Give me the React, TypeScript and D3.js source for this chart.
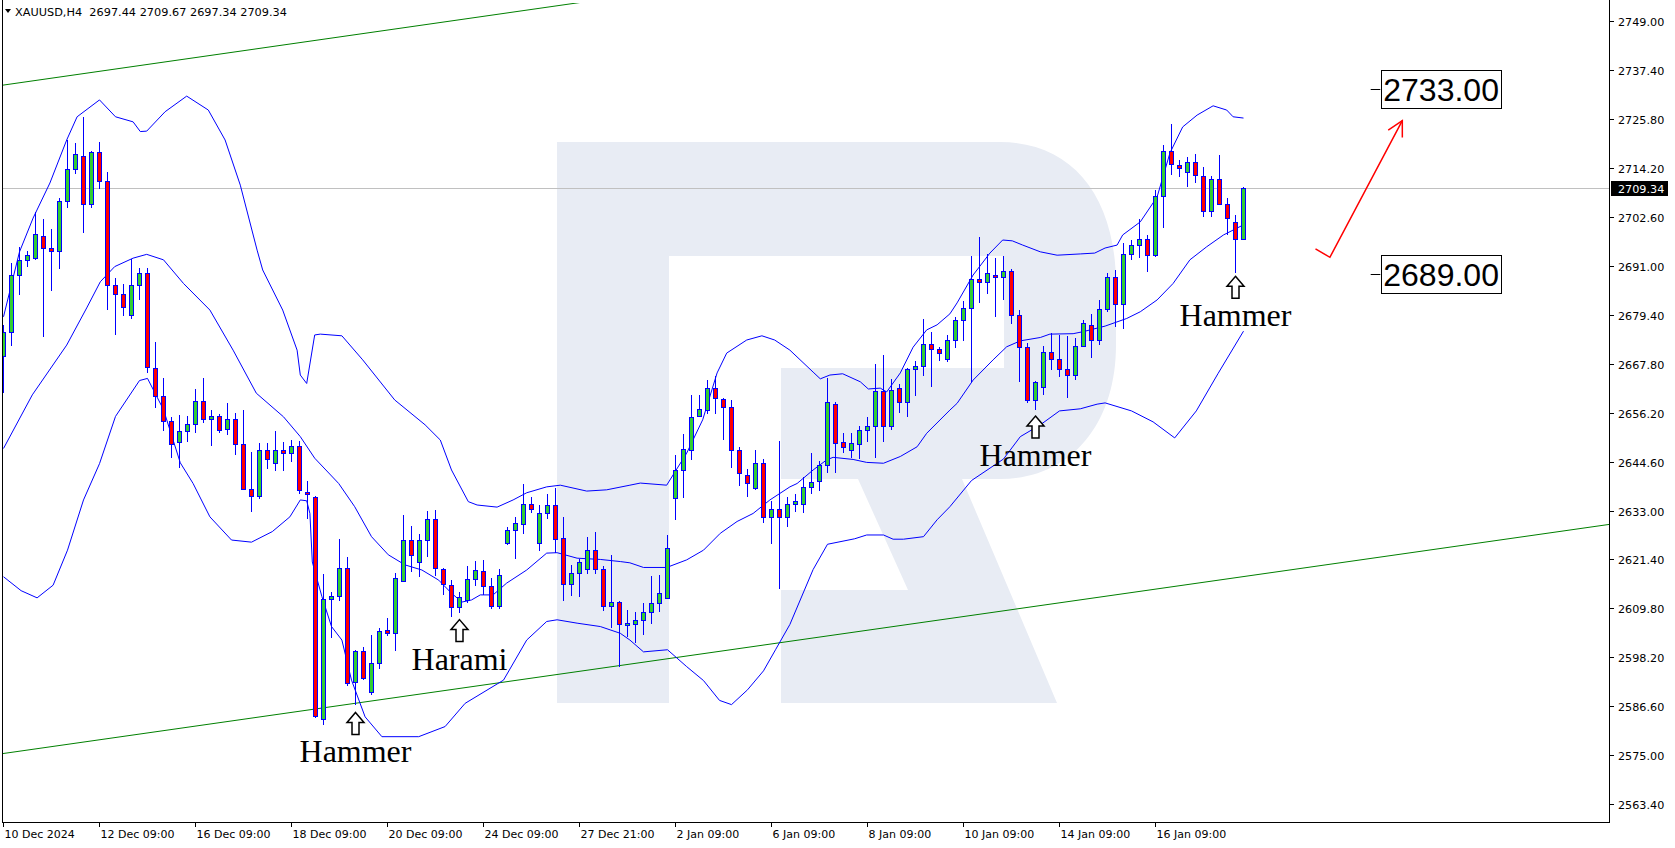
import React from 'react';
import * as d3 from 'd3';

// ---------- DATA ----------
const opens = [
  2669.5, 2675.2, 2688.8, 2692.3, 2692.9, 2698.0, 2695.2, 2694.4, 2706.3, 2713.9,
  2716.9, 2705.6, 2717.9, 2711.2, 2686.4, 2684.2, 2679.4, 2686.4, 2689.4, 2666.7,
  2660.1, 2654.1, 2649.2, 2651.8, 2653.5, 2658.9, 2654.7, 2655.3, 2652.2, 2654.6,
  2648.7, 2638.0, 2636.4, 2647.3, 2644.2, 2647.3, 2646.6, 2648.2, 2637.5, 2636.1,
  2583.6, 2612.0, 2612.7, 2619.3, 2592.3, 2599.6, 2589.9, 2596.8, 2604.6, 2603.9,
  2616.4, 2626.0, 2620.7, 2626.0, 2631.1, 2619.1, 2615.3, 2610.1, 2611.8, 2616.7,
  2618.6, 2615.0, 2610.4, 2625.2, 2628.3, 2629.7, 2634.5, 2625.2, 2632.4, 2634.2,
  2626.4, 2615.5, 2618.3, 2619.1, 2623.6, 2619.1, 2610.4, 2611.3, 2605.8, 2606.0,
  2607.0, 2609.0, 2611.0, 2612.2, 2635.9, 2642.5, 2647.3, 2655.3, 2656.7, 2662.1,
  2659.4, 2657.5, 2647.3, 2641.5, 2638.3, 2644.2, 2631.4, 2633.4, 2631.4, 2634.5,
  2634.5, 2638.5, 2639.9, 2643.7, 2658.2, 2649.2, 2647.3, 2648.7, 2652.0, 2653.0,
  2661.3, 2653.1, 2662.0, 2658.8, 2666.5, 2667.2, 2672.4, 2671.3, 2668.8, 2673.4,
  2678.1, 2680.9, 2687.8, 2687.2, 2688.7, 2688.3, 2689.7, 2679.3, 2671.7, 2659.2,
  2662.3, 2670.5, 2668.8, 2666.5, 2665.0, 2672.1, 2676.9, 2673.4, 2680.7, 2688.4,
  2681.9, 2693.9, 2695.8, 2697.3, 2693.5, 2707.6, 2718.3, 2714.9, 2713.2, 2715.5,
  2712.3, 2704.0, 2711.5, 2705.6, 2701.3, 2697.44,
];
const highs = [
  2677.0, 2691.6, 2695.5, 2694.5, 2703.8, 2702.1, 2699.7, 2707.0, 2720.8, 2720.0,
  2726.3, 2718.3, 2720.3, 2713.1, 2688.2, 2686.6, 2692.5, 2690.4, 2690.4, 2672.9,
  2664.5, 2655.2, 2655.7, 2655.5, 2661.7, 2664.5, 2656.7, 2655.9, 2658.4, 2656.1,
  2656.7, 2646.9, 2649.0, 2649.0, 2651.8, 2649.2, 2649.6, 2649.5, 2640.0, 2636.5,
  2618.0, 2613.8, 2626.2, 2621.9, 2599.9, 2600.7, 2603.6, 2605.2, 2607.6, 2618.1,
  2631.9, 2629.3, 2627.4, 2632.9, 2633.1, 2619.3, 2616.5, 2613.7, 2619.9, 2621.1,
  2621.3, 2617.0, 2619.1, 2629.0, 2631.5, 2639.2, 2636.2, 2634.3, 2636.9, 2638.3,
  2631.4, 2620.2, 2621.4, 2626.7, 2628.0, 2619.9, 2622.5, 2611.5, 2609.5, 2609.0,
  2611.0, 2617.5, 2617.7, 2627.2, 2646.2, 2651.1, 2660.4, 2660.4, 2663.9, 2664.9,
  2659.6, 2659.2, 2648.0, 2642.8, 2647.3, 2645.2, 2635.3, 2649.5, 2636.3, 2636.9,
  2641.0, 2646.6, 2644.8, 2664.3, 2658.6, 2651.3, 2651.3, 2653.0, 2655.1, 2667.7,
  2669.9, 2664.1, 2663.0, 2666.8, 2668.5, 2678.4, 2675.2, 2671.8, 2674.6, 2678.9,
  2682.6, 2693.3, 2697.9, 2693.8, 2692.8, 2693.3, 2690.2, 2680.5, 2672.6, 2663.8,
  2672.0, 2675.0, 2674.6, 2674.4, 2673.8, 2678.1, 2679.5, 2683.0, 2689.2, 2690.0,
  2696.3, 2697.1, 2702.1, 2698.3, 2709.0, 2719.6, 2724.6, 2716.1, 2716.8, 2717.5,
  2714.5, 2712.3, 2717.2, 2707.0, 2703.0, 2709.67,
];
const lows = [
  2660.8, 2672.0, 2684.1, 2690.8, 2692.4, 2674.2, 2685.1, 2690.2, 2704.8, 2712.8,
  2698.7, 2704.8, 2709.2, 2680.4, 2674.7, 2679.2, 2678.4, 2683.0, 2665.5, 2657.2,
  2651.9, 2645.5, 2643.0, 2649.3, 2651.4, 2653.7, 2648.4, 2651.4, 2650.8, 2646.2,
  2637.9, 2632.7, 2635.8, 2642.9, 2642.4, 2642.4, 2644.4, 2636.8, 2630.9, 2583.9,
  2582.1, 2602.9, 2611.5, 2591.5, 2586.8, 2592.8, 2589.3, 2595.5, 2603.3, 2599.8,
  2616.2, 2618.4, 2617.2, 2621.9, 2617.5, 2612.9, 2607.8, 2608.8, 2611.0, 2615.0,
  2612.9, 2609.6, 2609.6, 2624.8, 2621.4, 2627.4, 2632.3, 2623.5, 2630.9, 2623.0,
  2611.5, 2612.7, 2612.6, 2618.0, 2618.0, 2609.1, 2605.2, 2596.0, 2603.0, 2601.5,
  2603.5, 2606.0, 2609.0, 2612.2, 2630.8, 2635.9, 2645.0, 2655.1, 2655.9, 2655.9,
  2649.7, 2643.0, 2638.7, 2636.3, 2637.9, 2630.0, 2625.0, 2614.3, 2629.2, 2632.7,
  2632.5, 2636.8, 2637.7, 2641.8, 2641.8, 2646.7, 2645.5, 2645.1, 2649.3, 2645.4,
  2649.3, 2652.1, 2656.2, 2655.2, 2660.1, 2664.9, 2662.3, 2668.4, 2668.3, 2671.4,
  2673.2, 2663.5, 2682.2, 2684.3, 2678.9, 2682.9, 2677.1, 2663.5, 2658.5, 2656.8,
  2660.4, 2666.3, 2664.7, 2659.6, 2664.0, 2671.7, 2669.1, 2672.2, 2680.0, 2676.5,
  2676.0, 2692.4, 2692.8, 2689.6, 2693.0, 2699.9, 2712.5, 2712.1, 2709.7, 2710.5,
  2702.6, 2702.5, 2705.4, 2698.3, 2689.2, 2697.34,
];
const closes = [
  2675.2, 2688.8, 2692.3, 2693.5, 2698.5, 2695.1, 2694.4, 2706.3, 2713.9, 2717.4,
  2705.6, 2717.9, 2711.2, 2686.4, 2684.2, 2681.2, 2686.4, 2689.4, 2667.0, 2660.1,
  2654.1, 2648.7, 2651.8, 2653.5, 2658.9, 2654.7, 2655.3, 2652.1, 2654.6, 2648.7,
  2638.0, 2636.5, 2647.3, 2645.1, 2647.3, 2646.6, 2648.2, 2637.8, 2636.8, 2584.3,
  2612.0, 2612.7, 2619.3, 2592.2, 2599.6, 2593.2, 2596.8, 2604.4, 2603.9, 2616.9,
  2626.0, 2622.4, 2626.0, 2631.1, 2619.4, 2615.5, 2610.1, 2612.5, 2616.7, 2618.9,
  2615.1, 2610.4, 2617.6, 2628.3, 2630.0, 2634.5, 2633.3, 2632.4, 2634.2, 2626.2,
  2615.5, 2618.3, 2620.9, 2623.6, 2619.1, 2610.4, 2611.3, 2606.0, 2606.3, 2607.0,
  2609.0, 2611.0, 2613.4, 2624.0, 2642.5, 2647.5, 2655.2, 2657.1, 2662.1, 2659.6,
  2657.5, 2647.3, 2641.9, 2639.5, 2644.2, 2631.4, 2633.4, 2631.4, 2634.5, 2635.3,
  2638.5, 2639.8, 2643.7, 2658.6, 2648.9, 2648.0, 2648.9, 2652.0, 2653.0, 2661.3,
  2653.1, 2661.5, 2658.8, 2666.5, 2667.2, 2672.4, 2671.2, 2670.3, 2673.3, 2678.1,
  2680.9, 2687.8, 2687.2, 2689.2, 2688.3, 2689.7, 2679.3, 2671.7, 2659.2, 2663.4,
  2670.5, 2668.8, 2666.5, 2665.0, 2672.1, 2677.4, 2673.4, 2680.7, 2688.3, 2681.9,
  2693.9, 2696.0, 2697.3, 2693.5, 2707.6, 2718.3, 2715.1, 2714.1, 2715.5, 2712.5,
  2704.0, 2711.5, 2705.6, 2702.3, 2697.3, 2709.34,
];

// Bollinger bands: [bar index, price]
const bbUpper: [number, number][] = [
  [0, 2678.9], [2, 2694.3], [3.7, 2702.3], [5.8, 2710.6], [7.9, 2720.8], [9.2, 2726.3], [12, 2730.3],
  [14, 2726.3], [16.2, 2725.1], [17.1, 2722.8], [17.9, 2722.9], [20.2, 2727.5], [22.9, 2731.2],
  [25.6, 2727.9], [27.7, 2720.8], [29.6, 2710.1], [31.7, 2694.7], [32.4, 2690.0], [34.9, 2680.5],
  [36.7, 2671.0], [37.1, 2665.1], [37.9, 2663.1], [38.9, 2674.6], [39.6, 2674.8], [42.3, 2674.4],
  [44.9, 2668.7], [48.9, 2659.2], [52.7, 2653.3], [54.6, 2649.7], [56, 2642.6], [58.1, 2635.1],
  [59.2, 2634.3], [61.7, 2633.8], [63.7, 2635.5], [65.4, 2637.2], [67.9, 2638.6], [69.6, 2639.0],
  [72.9, 2637.6], [75.4, 2637.9], [78.3, 2639.0], [79.6, 2639.5], [82.9, 2639.0], [85.4, 2646.6],
  [87.4, 2654.5], [89.2, 2665.6], [90.4, 2670.3], [92.9, 2673.4], [94.8, 2674.4], [96.4, 2673.4],
  [98.3, 2671.0], [101.2, 2665.8], [102.1, 2664.2], [103.3, 2665.1], [104.9, 2665.4], [107.1, 2663.5],
  [108.1, 2661.8], [109.6, 2662.0], [110.4, 2661.1], [112.1, 2665.6], [113.7, 2671.7], [115.4, 2675.8],
  [116.7, 2677.0], [118.3, 2679.6], [119.2, 2682.2], [121.2, 2688.8], [123.3, 2694.0], [124.9, 2697.1],
  [126.1, 2696.9], [127.4, 2695.9], [129.6, 2694.3], [131.7, 2693.5], [134.6, 2693.8], [136.4, 2694.0],
  [137.7, 2695.2], [139.2, 2695.9], [139.9, 2698.3], [142.1, 2701.4], [144.2, 2707.3], [145.8, 2717.7],
  [147.4, 2723.9], [149.2, 2726.7], [151.2, 2728.9], [152.9, 2727.9], [153.7, 2726.3], [155, 2726.0],
];
const bbMiddle: [number, number][] = [
  [0, 2647.7], [3.6, 2660.4], [7.9, 2672.2], [10.4, 2681.0], [12.1, 2687.2], [13.9, 2690.8],
  [16.2, 2692.8], [17.9, 2693.7], [20, 2692.4], [22.5, 2686.8], [25.8, 2680.5], [28.7, 2671.0],
  [31.6, 2660.8], [35, 2655.2], [37.1, 2650.5], [38.9, 2645.4], [41.9, 2639.4], [43.9, 2633.9],
  [46, 2626.8], [48.1, 2622.5], [50.2, 2620.1], [52.3, 2618.9], [54.4, 2616.5], [56, 2613.4],
  [57.3, 2611.3], [58.5, 2611.8], [59.6, 2613.0], [61.2, 2613.0], [62.9, 2615.8], [65.4, 2618.9],
  [67.9, 2622.9], [69.2, 2623.0], [71.7, 2621.7], [74.6, 2621.4], [77.1, 2620.9], [78.3, 2620.6],
  [80, 2619.5], [82.9, 2619.5], [85.4, 2621.3], [87.5, 2623.6], [89.6, 2627.6], [91.7, 2630.4],
  [93.7, 2632.3], [95.8, 2635.5], [98.3, 2638.6], [99.2, 2639.4], [101.2, 2642.6], [102.9, 2645.0],
  [103.7, 2645.6], [106.2, 2645.1], [107.9, 2644.4], [110, 2644.2], [112.1, 2645.8], [114.2, 2648.1],
  [115.4, 2651.3], [118.3, 2656.8], [119.2, 2658.4], [121.2, 2663.9], [123.7, 2668.7], [125.4, 2671.8],
  [127.1, 2673.2], [129.6, 2674.0], [130.8, 2674.8], [133.7, 2674.9], [135, 2675.4], [137.7, 2676.7],
  [140.4, 2678.5], [142.1, 2680.1], [144.2, 2682.9], [146.2, 2686.8], [148.3, 2692.4], [150.4, 2695.5],
  [152.5, 2698.3], [155, 2700.7],
];
const bbLower: [number, number][] = [
  [0, 2617.3], [2.2, 2614.0], [4.2, 2612.3], [6.2, 2615.3], [8, 2623.6], [10, 2635.5], [12, 2644.1],
  [14, 2655.3], [17, 2663.8], [18, 2664.3], [20, 2656.9], [22.1, 2644.3], [23.7, 2639.4], [25.8, 2631.5],
  [28.5, 2626.0], [31, 2625.5], [33.6, 2628.0], [35.8, 2631.5], [37.1, 2635.5], [37.9, 2635.3],
  [38.3, 2632.3], [38.6, 2620.8], [39.8, 2612.6], [41, 2605.5], [42.3, 2602.3], [43.5, 2592.8],
  [45.2, 2584.1], [47.3, 2579.4], [51.9, 2579.4], [55.2, 2581.8], [57.7, 2587.3], [62.5, 2592.8],
  [65.4, 2602.3], [67.9, 2606.7], [69.2, 2607.1], [71.7, 2606.3], [74.6, 2605.5], [77.1, 2603.9],
  [78.3, 2602.3], [80, 2599.5], [83, 2600.0], [85.4, 2596.0], [87.5, 2592.7], [89.5, 2588.0],
  [91, 2587.0], [93, 2590.5], [95, 2595.0], [96.5, 2600.0], [98.3, 2606.0], [101.2, 2619.0],
  [103, 2625.0], [106.4, 2626.3], [107.9, 2627.2], [110, 2627.2], [111.2, 2626.2], [112.5, 2626.2],
  [115, 2626.8], [116.7, 2630.8], [118.3, 2633.9], [121, 2640.1], [125, 2645.2], [127.1, 2650.5],
  [129.6, 2653.3], [132, 2656.6], [134.6, 2657.1], [136.7, 2658.2], [137.7, 2658.5], [141, 2656.6],
  [143.7, 2654.0], [146.4, 2650.2], [149.1, 2656.6], [151.8, 2665.4], [155, 2675.5],
];

// Channel lines: [bar index, price]
const channelTop: [number, number][] = [[-0.44, 2733.7], [120, 2766.4]];
const channelBottom: [number, number][] = [[-0.44, 2575.3], [200.7, 2629.7]];

// Forecast zigzag arrow: [bar index, price]
const forecastPath: [number, number][] = [[164.0, 2695.0], [165.8, 2693.0], [174.85, 2725.4]];

// Target levels
const levelValues = [2733.0, 2689.0];
const levelLabels = ['2733.00', '2689.00'];

// Pattern labels (bar, gap below the low in px, text offset)
const patternLabels = ['Hammer', 'Harami', 'Hammer', 'Hammer'];
const patternBars = [44, 57, 129, 154];
const patternGaps = [7, 7, 6, 3];

// Axes
const priceTickLabels = [
  '2749.00', '2737.40', '2725.80', '2714.20', '2702.60', '2691.00', '2679.40', '2667.80', '2656.20',
  '2644.60', '2633.00', '2621.40', '2609.80', '2598.20', '2586.60', '2575.00', '2563.40',
];
const timeTickBars = [0, 12, 24, 36, 48, 60, 72, 84, 96, 108, 120, 132, 144];
const timeTickLabels = [
  '10 Dec 2024', '12 Dec 09:00', '16 Dec 09:00', '18 Dec 09:00', '20 Dec 09:00', '24 Dec 09:00',
  '27 Dec 21:00', '2 Jan 09:00', '6 Jan 09:00', '8 Jan 09:00', '10 Jan 09:00', '14 Jan 09:00',
  '16 Jan 09:00',
];
const headerText = 'XAUUSD,H4  2697.44 2709.67 2697.34 2709.34';
const lastPrice = 2709.34;
const lastPriceLabel = '2709.34';

// ---------- CHART ----------
const W = 1675;
const H = 848;
const PL = 2;
const PR = 1609;
const PT = 3;
const PB = 822;

const AXIS_FONT = '"DejaVu Sans", Tahoma, Verdana, sans-serif';

export default function App() {
  const x = d3.scaleLinear().domain([0, 155]).range([3.5, 1243.5]);
  const y = d3.scaleLinear().domain([2563.4, 2749]).range([804.2, 21]);

  const line = d3
    .line<[number, number]>()
    .x((d) => x(d[0]))
    .y((d) => y(d[1]));

  const candles = opens.map((o, i) => {
    const c = closes[i];
    const cx = Math.floor(x(i)) + 0.5;
    const yTop = Math.round(y(Math.max(o, c)));
    const yBot = Math.round(y(Math.min(o, c)));
    const bull = c >= o;
    return (
      <g key={i}>
        <line x1={cx} x2={cx} y1={Math.round(y(highs[i]))} y2={Math.round(y(lows[i]))} stroke="#0000ff" strokeWidth={1} />
        <rect
          x={cx - 2}
          y={yTop + 0.5}
          width={4}
          height={Math.max(1, yBot - yTop)}
          fill={bull ? '#32cd32' : '#ff0000'}
          stroke="#0000ff"
          strokeWidth={1}
        />
      </g>
    );
  });

  // forecast arrow head
  const fp = forecastPath.map((d) => [x(d[0]), y(d[1])]);
  const tip = fp[fp.length - 1];
  const prev = fp[fp.length - 2];
  const ang = Math.atan2(prev[1] - tip[1], prev[0] - tip[0]);
  const headLen = 17;
  const spread = (28 * Math.PI) / 180;
  const b1 = [tip[0] + headLen * Math.cos(ang + spread), tip[1] + headLen * Math.sin(ang + spread)];
  const b2 = [tip[0] + headLen * Math.cos(ang - spread), tip[1] + headLen * Math.sin(ang - spread)];

  const levelBoxX0 = x(172.2);
  const levelBoxX1 = x(187.2);
  const dashX0 = x(170.9);
  const dashX1 = x(172.1);

  return (
    <svg
      width={W}
      height={H}
      viewBox={`0 0 ${W} ${H}`}
      style={{ position: 'fixed', left: 0, top: 0, background: '#ffffff' }}
    >
      <defs>
        <clipPath id="plot">
          <rect x={PL} y={PT} width={PR - PL} height={PB - PT} />
        </clipPath>
      </defs>
      <rect x={0} y={0} width={W} height={H} fill="#ffffff" />

      {/* watermark logo */}
      <g fill="#e8ecf4" clipPath="url(#plot)">
        <path d="M557,142 H669 V703 H557 Z" />
        <path d="M669,142 H1000 C1072,142 1116,196 1116,285 V345 C1116,425 1070,479 1000,479 H781 V368 H1004 V256 H669 Z" />
        <path d="M858,479 H962 L1057,703 H781 V590 H908 Z" />
      </g>

      <g clipPath="url(#plot)">
        {/* last price line */}
        <line x1={PL} x2={PR} y1={Math.round(y(lastPrice)) + 0.5} y2={Math.round(y(lastPrice)) + 0.5} stroke="#c0c0c0" strokeWidth={1} />

        {/* channel */}
        <path d={line(channelTop) || ''} fill="none" stroke="#008000" strokeWidth={1} />
        <path d={line(channelBottom) || ''} fill="none" stroke="#008000" strokeWidth={1} />

        {/* bollinger */}
        <path d={line(bbUpper) || ''} fill="none" stroke="#0000ff" strokeWidth={1} />
        <path d={line(bbMiddle) || ''} fill="none" stroke="#0000ff" strokeWidth={1} />
        <path d={line(bbLower) || ''} fill="none" stroke="#0000ff" strokeWidth={1} />

        {candles}

        {/* pattern labels */}
        {patternBars.map((b, k) => {
          const cx = Math.floor(x(b)) + 0.5;
          const ty = y(lows[b]) + patternGaps[k];
          const d = `M${cx},${ty} L${cx + 8.5},${ty + 10} L${cx + 3.5},${ty + 10} L${cx + 3.5},${ty + 22} L${cx - 3.5},${ty + 22} L${cx - 3.5},${ty + 10} L${cx - 8.5},${ty + 10} Z`;
          return (
            <g key={k}>
              <path d={d} fill="#ffffff" stroke="#000000" strokeWidth={1.5} strokeLinejoin="miter" />
              <text
                x={cx}
                y={ty + 50}
                textAnchor="middle"
                fontFamily='"Liberation Serif", "Times New Roman", serif'
                fontSize={32}
                fill="#000000"
              >
                {patternLabels[k]}
              </text>
            </g>
          );
        })}

        {/* forecast arrow */}
        <polyline points={fp.map((p) => p.join(',')).join(' ')} fill="none" stroke="#ff0000" strokeWidth={1.5} />
        <polyline points={`${b1.join(',')} ${tip.join(',')} ${b2.join(',')}`} fill="none" stroke="#ff0000" strokeWidth={1.5} />

        {/* target levels */}
        {levelValues.map((v, k) => {
          const ly = Math.round(y(v)) + 0.5;
          return (
            <g key={k}>
              <line x1={dashX0} x2={dashX1} y1={ly} y2={ly} stroke="#000000" strokeWidth={1} />
              <rect x={Math.round(levelBoxX0) + 0.5} y={ly - 19} width={Math.round(levelBoxX1 - levelBoxX0)} height={38} fill="#ffffff" stroke="#000000" strokeWidth={1} />
              <text
                x={(levelBoxX0 + levelBoxX1) / 2}
                y={ly + 11.5}
                textAnchor="middle"
                fontFamily='"Liberation Sans", Arial, sans-serif'
                fontSize={32}
                fill="#000000"
              >
                {levelLabels[k]}
              </text>
            </g>
          );
        })}
      </g>

      {/* frame */}
      <line x1={PL + 0.5} x2={PL + 0.5} y1={0} y2={PB} stroke="#000000" strokeWidth={1} />
      <line x1={PR + 0.5} x2={PR + 0.5} y1={0} y2={PB + 1} stroke="#000000" strokeWidth={1} />
      <line x1={PL} x2={PR + 1} y1={PB + 0.5} y2={PB + 0.5} stroke="#000000" strokeWidth={1} />

      {/* price axis */}
      {priceTickLabels.map((t, k) => {
        const ty = Math.round(y(+t)) + 0.5;
        return (
          <g key={k}>
            <line x1={PR + 1} x2={PR + 5} y1={ty} y2={ty} stroke="#000000" strokeWidth={1} />
            <text x={1618} y={ty + 4} fontFamily={AXIS_FONT} fontSize={11.2} fill="#000000">
              {t}
            </text>
          </g>
        );
      })}
      <rect x={PR + 2} y={Math.round(y(lastPrice)) - 7} width={57} height={15} fill="#000000" />
      <text x={1618} y={Math.round(y(lastPrice)) + 4.5} fontFamily={AXIS_FONT} fontSize={11.2} fill="#ffffff">
        {lastPriceLabel}
      </text>

      {/* time axis */}
      {timeTickBars.map((b, k) => {
        const tx = Math.floor(x(b)) + 0.5;
        return (
          <g key={k}>
            <line x1={tx} x2={tx} y1={PB} y2={PB + 5} stroke="#000000" strokeWidth={1} />
            <text x={tx + 1} y={838} fontFamily={AXIS_FONT} fontSize={11} fill="#000000">
              {timeTickLabels[k]}
            </text>
          </g>
        );
      })}

      {/* header */}
      <path d="M5,9 L11,9 L8,13 Z" fill="#000000" />
      <text x={15} y={16} fontFamily={AXIS_FONT} fontSize={11.3} fill="#000000" style={{ whiteSpace: 'pre' }}>
        {headerText}
      </text>
    </svg>
  );
}
